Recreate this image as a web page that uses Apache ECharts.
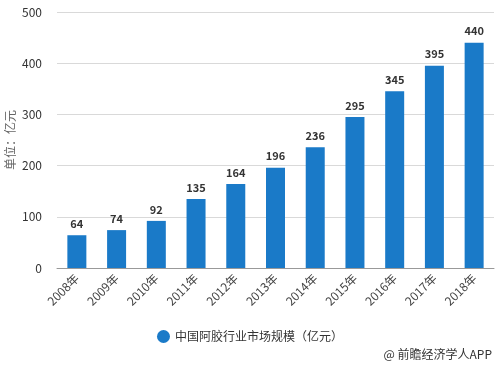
<!DOCTYPE html>
<html><head><meta charset="utf-8">
<script src="https://cdn.jsdelivr.net/npm/echarts@6/dist/echarts.min.js"></script>
<style>html,body{margin:0;padding:0;background:#fff}#c{width:500px;height:368px}</style>
</head><body><div id="c"></div>
<script>
var categories = ['2008年','2009年','2010年','2011年','2012年','2013年','2014年','2015年','2016年','2017年','2018年'];
var values = [64, 74, 92, 135, 164, 196, 236, 295, 345, 395, 440];
var seriesName = '中国阿胶行业市场规模（亿元）';
var yAxisName = '单位：亿元';
var chart = echarts.init(document.getElementById('c'));
chart.setOption({
  animation: false,
  textStyle: {fontFamily: '"Microsoft YaHei","Noto Sans CJK SC",sans-serif'},
  grid: {left: 57, right: 6, top: 12, height: 256, outerBoundsMode: 'none', containLabel: false},
  legend: {
    bottom: 20, left: 'center', icon: 'circle', itemWidth: 13, itemHeight: 13,
    textStyle: {color: '#333', fontSize: 12, fontFamily: 'Noto Sans CJK SC'}
  },
  graphic: [{type: 'text', right: 8, bottom: 8, style: {text: '@ 前瞻经济学人APP', fill: '#333', fontSize: 12, fontFamily: 'Noto Sans CJK SC'}}],
  xAxis: {
    type: 'category', data: categories,
    axisTick: {alignWithLabel: true, lineStyle: {color: '#999'}},
    axisLine: {lineStyle: {color: '#999'}},
    axisLabel: {rotate: 45, color: '#444', fontSize: 12, margin: 8, fontFamily: 'Noto Sans CJK SC'}
  },
  yAxis: {
    type: 'value', min: 0, max: 500, interval: 100,
    name: yAxisName, nameLocation: 'middle', nameGap: 41, nameRotate: 90, nameMoveOverlap: false,
    nameTextStyle: {color: '#666', fontSize: 12, fontFamily: 'Noto Sans CJK SC'},
    axisLine: {show: false}, axisTick: {show: false},
    axisLabel: {color: '#333', fontSize: 12, margin: 15},
    splitLine: {lineStyle: {color: '#d9d9d9'}}
  },
  series: [{
    name: seriesName, type: 'bar', data: values, barWidth: 19,
    itemStyle: {color: '#1a7ac8'},
    label: {show: true, position: 'top', color: '#333', fontWeight: 'bold', fontSize: 11, distance: 6}
  }]
});
</script></body></html>
